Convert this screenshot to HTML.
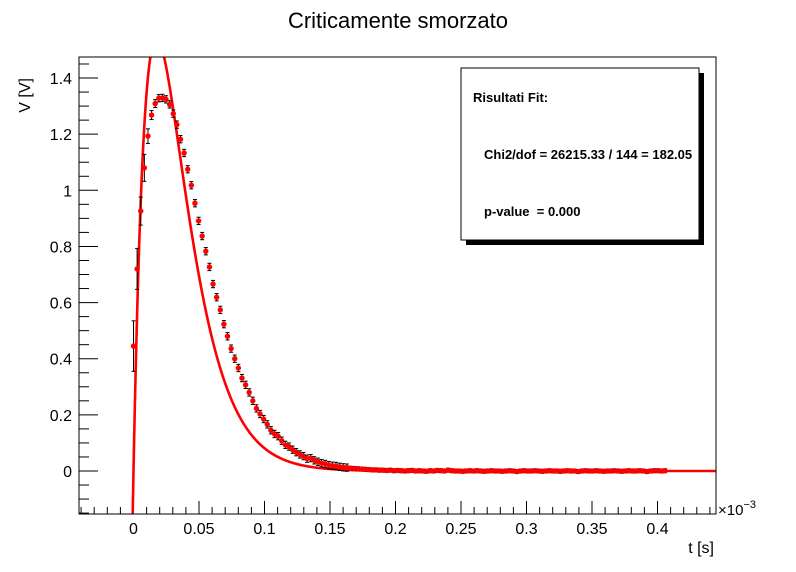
<!DOCTYPE html>
<html><head><meta charset="utf-8"><style>
html,body{margin:0;padding:0;background:#fff;}
svg{display:block;font-family:"Liberation Sans",Arial,sans-serif;}
</style></head><body>
<svg id="chart" width="796" height="572" viewBox="0 0 796 572" xmlns="http://www.w3.org/2000/svg">
<rect x="0" y="0" width="796" height="572" fill="#fff"/>
<text x="398" y="28" text-anchor="middle" font-size="22">Criticamente smorzato</text>
<defs><clipPath id="plotclip"><rect x="79" y="57" width="637" height="457"/></clipPath></defs>
<g id="axes"></g>
<g id="fit" clip-path="url(#plotclip)"></g>
<g id="pts" clip-path="url(#plotclip)"></g>
<rect x="79" y="57" width="637" height="457" fill="none" stroke="#000" stroke-width="1"/>
<g>
<rect x="466" y="73" width="238" height="172" fill="#000"/>
<rect x="461" y="68" width="238" height="172" fill="#fff" stroke="#000" stroke-width="1"/>
<text x="473" y="102" font-size="13" font-weight="bold">Risultati Fit:</text>
<text x="484" y="159" font-size="13" font-weight="bold">Chi2/dof = 26215.33 / 144 = 182.05</text>
<text x="484" y="216" font-size="13" font-weight="bold" xml:space="preserve">p-value  = 0.000</text>
</g>
<text x="714" y="553" text-anchor="end" font-size="16">t [s]</text>
<text x="718" y="515" font-size="15">×10<tspan dy="-7" font-size="11">−3</tspan></text>
<text transform="translate(30,78) rotate(-90)" text-anchor="end" font-size="16">V [V]</text>
</svg>
<script>
// data
const tStart = 0;
const tStep = 0.00276;
const voltages = [0.445,0.72,0.926,1.08,1.193,1.268,1.309,1.328,1.329,1.324,1.306,1.273,1.234,1.182,1.133,1.075,1.018,0.954,0.891,0.837,0.783,0.727,0.666,0.619,0.574,0.523,0.48,0.436,0.40,0.367,0.331,0.307,0.28,0.25,0.223,0.203,0.185,0.166,0.145,0.132,0.124,0.108,0.093,0.087,0.076,0.067,0.059,0.053,0.044,0.046,0.038,0.033,0.028,0.025,0.021,0.019,0.018,0.015,0.013,0.012,
0.010,0.009,0.008,0.007,0.006,0.005,0.004,0.004,0.003,0.003,0.002,0.003,0.001,0.002,0.001,0.000,0.001,0.002,0.000,0.001,0.000,-0.001,0.001,0.000,0.002,0.001,0.000,0.003,0.001,0.000,0.000,-0.001,0.000,0.001,0.000,0.001,0.000,-0.001,0.000,0.001,0.000,0.000,-0.001,0.000,0.001,0.000,-0.002,0.000,0.001,0.000,0.000,0.001,0.000,-0.001,0.000,0.001,0.000,0.000,-0.001,0.000,0.001,0.000,0.000,-0.002,0.000,0.001,0.000,0.000,0.001,0.000,-0.001,0.000,0.000,0.001,0.000,-0.001,0.000,0.001,0.000,0.000,0.001,0.000,-0.002,0.000,0.001,0.001,0.000,0.001];
const errorsHead = [0.09,0.073,0.05,0.048,0.026,0.016,0.014,0.013,0.013,0.013,0.013,0.013];
const errorMid = 0.013;
const errorTail = 0.007;
const fitA = 238;
const fitTau = 0.0176;
const xTicksMajor = [0,0.05,0.1,0.15,0.2,0.25,0.3,0.35,0.4];
const xTickLabels = ["0","0.05","0.1","0.15","0.2","0.25","0.3","0.35","0.4"];
const yTicksMajor = [0,0.2,0.4,0.6,0.8,1,1.2,1.4];
const yTickLabels = ["0","0.2","0.4","0.6","0.8","1","1.2","1.4"];

const NS="http://www.w3.org/2000/svg";
const X = v => 133.5 + v*1310;
const Y = v => 471 - v*280.7;
function mk(tag, attrs, parent){const e=document.createElementNS(NS,tag);for(const k in attrs)e.setAttribute(k,attrs[k]);parent.appendChild(e);return e;}

const axes=document.getElementById('axes');
for(let k=-4;k<=44;k++){
  const v=k*0.01, x=X(v);
  if(x<79||x>716) continue;
  const major = k%5===0;
  const l=mk('line',{x1:x,x2:x,y1:514,y2:514-(major?13:7),stroke:'#000','stroke-width':1},axes);
  
  
}
xTicksMajor.forEach((v,i)=>{
  const t=mk('text',{x:X(v),y:534,'text-anchor':'middle','font-size':16},axes);
  t.textContent=xTickLabels[i];
  
  
});
for(let k=-3;k<=29;k++){
  const v=k*0.05, y=Y(v);
  if(y<57||y>514) continue;
  const major = k%4===0;
  const l=mk('line',{x1:79,x2:79+(major?19:10),y1:y,y2:y,stroke:'#000','stroke-width':1},axes);
  
  
}
yTicksMajor.forEach((v,i)=>{
  const t=mk('text',{x:72,y:Y(v)+6,'text-anchor':'end','font-size':16},axes);
  t.textContent=yTickLabels[i];
  
  
});

const fitG=document.getElementById('fit');
let d='';
for(let t=-0.0008;t<=0.4446;t+=0.0004){
  const v=fitA*t*Math.exp(-t/fitTau);
  const yy=Math.min(Math.max(Y(v),40),530);
  d+=(d?'L':'M')+X(t).toFixed(2)+','+yy.toFixed(2);
}
const fp=mk('path',{d:d,fill:'none',stroke:'#ff0000','stroke-width':2.6},fitG);



const ptsG=document.getElementById('pts');
voltages.forEach((v,i)=>{
  const t=tStart+i*tStep;
  const e=i<errorsHead.length?errorsHead[i]:(i<60?errorMid:errorTail);
  const x=X(t), y1=Y(v+e), y2=Y(v-e);
  const g=mk('g',{},ptsG);
  
  
  mk('line',{x1:x,x2:x,y1:y1,y2:y2,stroke:'#000','stroke-width':1},g);
  mk('line',{x1:x-2,x2:x+2,y1:y1,y2:y1,stroke:'#000','stroke-width':1},g);
  mk('line',{x1:x-2,x2:x+2,y1:y2,y2:y2,stroke:'#000','stroke-width':1},g);
  mk('circle',{cx:x,cy:Y(v),r:2.7,fill:'#ff0000'},g);
});
</script>
</body></html>
